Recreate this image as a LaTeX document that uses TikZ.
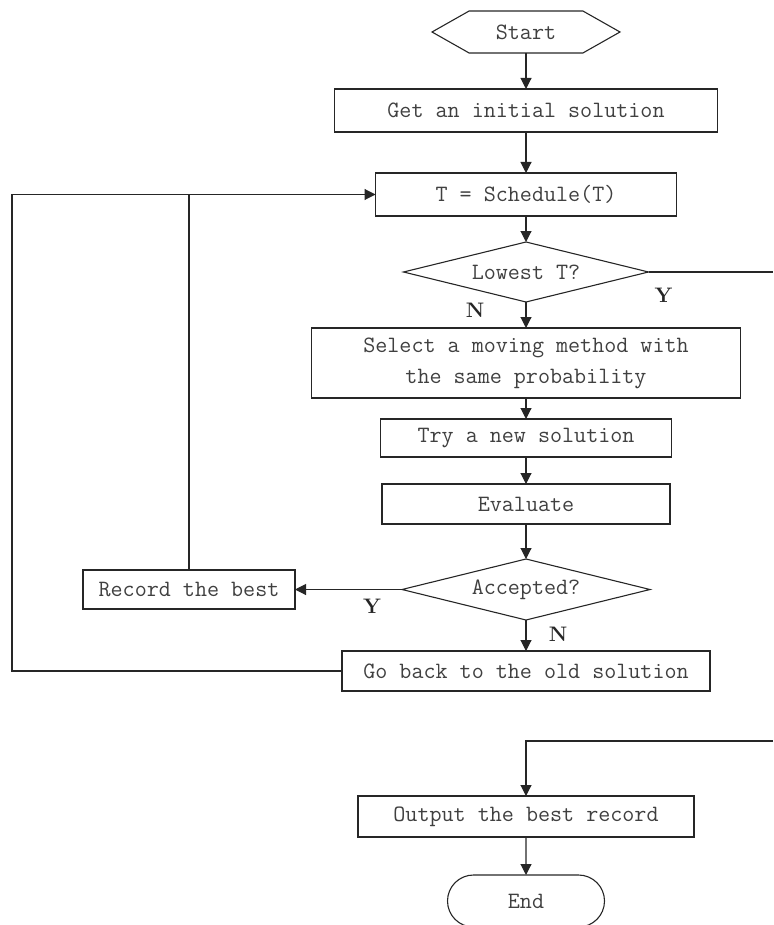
\documentclass[tikz,border=0pt]{standalone}
\usepackage{tikz}
\usetikzlibrary{arrows.meta,positioning,shapes.geometric,shapes.symbols,shapes.misc}

\begin{document}
\begin{tikzpicture}[x=1pt,y=-1pt,
  font=\fontsize{23.4}{31}\selectfont\ttfamily,
  box/.style={draw=black!85, line width=1.1pt, text=black!75, align=center, inner sep=0pt, outer sep=0pt, minimum height=40pt},
  dec/.style={draw=black!85, line width=1.1pt, text=black!75, diamond, aspect=4, inner sep=0pt, outer sep=0pt, minimum width=248pt, minimum height=61pt},
  lbl/.style={font=\fontsize{21}{21}\selectfont\rmfamily\bfseries, text=black!85},
  arr/.style={-{Triangle[length=11pt,width=11pt]}, line width=1.1pt, draw=black!85},
  link/.style={line width=1.1pt, draw=black!85}]
\useasboundingbox (0,0) rectangle (773,925);
\node[box, signal, signal to=east and west, signal pointer angle=59, minimum width=188pt, minimum height=42pt] (start) at (526,32) {Start};
\node[box, minimum width=383pt, minimum height=43pt, below=36pt of start] (init) {Get an initial solution};
\node[box, minimum width=301pt, minimum height=43pt, below=41pt of init] (sched) {T = Schedule(T)};
\node[dec, minimum width=245pt, minimum height=60pt, below=26pt of sched] (lowest) {Lowest T?};
\node[box, minimum width=429pt, minimum height=70pt, below=26pt of lowest] (select) {Select a moving method with\\the same probability};
\node[box, minimum width=291pt, minimum height=38pt, below=21pt of select] (try) {Try a new solution};
\node[box, minimum width=288pt, below=27pt of try] (eval) {Evaluate};
\node[dec, below=35pt of eval] (accept) {Accepted?};
\node[box, minimum width=368pt, below=31pt of accept] (goback) {Go back to the old solution};
\node[box, minimum width=212pt, minimum height=39pt, left=107pt of accept] (record) {Record the best};
\node[box, minimum width=336pt, minimum height=41pt, below=105pt of goback] (output) {Output the best record};
\node[box, rounded rectangle, minimum width=157pt, minimum height=52pt, below=38pt of output] (finish) {End};
\coordinate (lx) at (12,0);
\coordinate (rx) at (773,0);
\coordinate[above=55pt of output.north] (outin);
\foreach \a/\b in {start/init,init/sched,sched/lowest,lowest/select,select/try,try/eval,eval/accept,accept/goback,output/finish}\draw[arr](\a)--(\b);
\draw[arr] (accept) -- (record);
\draw[arr] (goback.west) -| (lx |- sched.west) -- (sched.west);
\draw[link] (record.north) -- (record.north |- sched.west);
\draw[link] (lowest.east) -- (lowest.east -| rx);
\draw[arr] (outin -| rx) -| (output.north);
\node[lbl] at ([xshift=15pt,yshift=-23pt]lowest.east) {Y};
\node[lbl] at ([xshift=-51pt,yshift=-8pt]lowest.south) {N};
\node[lbl] at ([xshift=-30pt,yshift=-17pt]accept.west) {Y};
\node[lbl] at ([xshift=32pt,yshift=-14pt]accept.south) {N};
\end{tikzpicture}
\end{document}
